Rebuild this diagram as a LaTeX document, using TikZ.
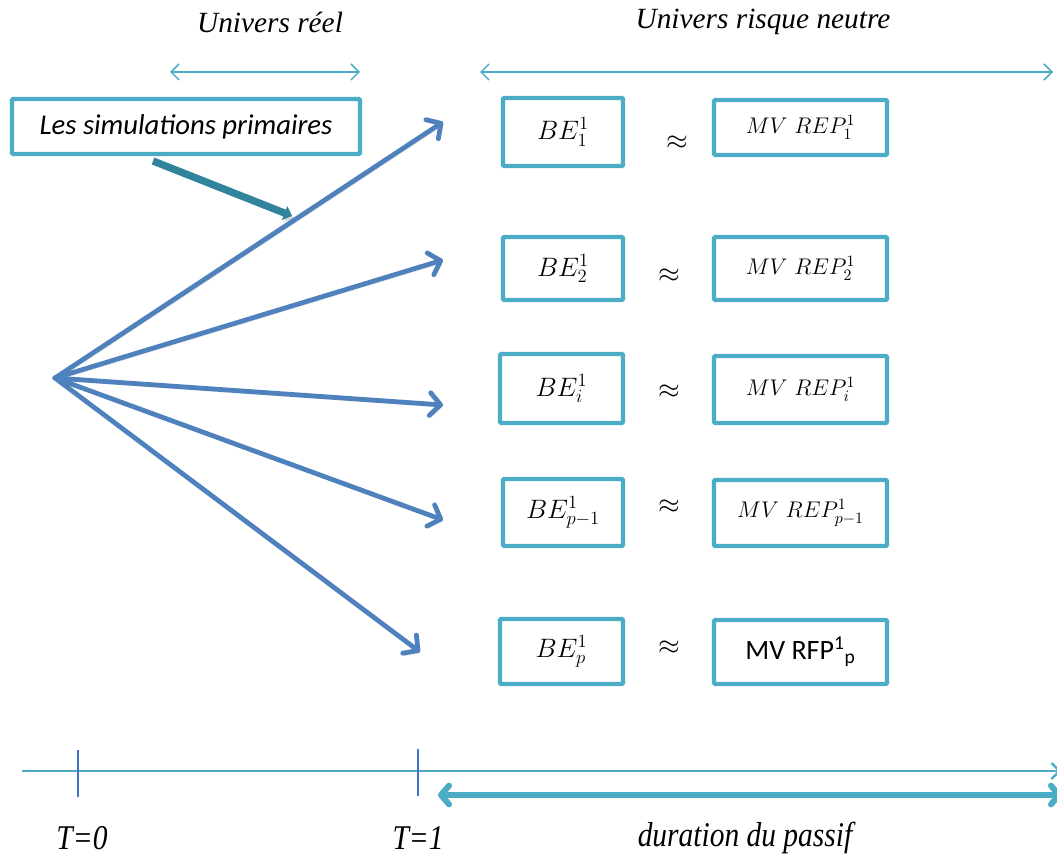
\RequirePackage{fix-cm}
\documentclass[tikz,border=0pt]{standalone}
\usepackage{fontspec}
\usetikzlibrary{arrows.meta}
\newfontfamily\carlito{Carlito}
\newfontfamily\libserif{Liberation Serif}
\definecolor{boxc}{HTML}{4BACC6}
\definecolor{fanc}{HTML}{4F81BD}
\definecolor{darkc}{HTML}{31849B}
\definecolor{tickc}{HTML}{4472C4}
\tikzset{
  shad/.style={preaction={draw=black, opacity=0.10, transform canvas={shift={(1.2pt,-1.8pt)}}}},
  bx/.style={draw=boxc, line width=3.3pt, rounded corners=1pt, inner sep=0pt, fill=white},
  fan/.style={draw=fanc, line width=3.6pt, line cap=round, shad, -{Straight Barb[length=8pt,width=17pt,round]}},
  thinarr/.style={draw=boxc, line width=1.1pt, {Straight Barb[length=6pt,width=12pt]}-{Straight Barb[length=6pt,width=12pt]}},
  betxt/.style={font=\fontsize{20}{24}\selectfont},
  mvtxt/.style={font=\fontsize{17}{20}\selectfont},
  aptxt/.style={font=\fontsize{21}{24}\selectfont},
  ttl/.style={font=\libserif\itshape\fontsize{22}{26}\selectfont},
  axl/.style={font=\libserif\itshape\fontsize{26}{30}\selectfont},
}
\begin{document}
\begin{tikzpicture}[x=0.75pt,y=-0.75pt]
\useasboundingbox (0,0) rectangle (1057,855);
% titles
\node[ttl] (ur) at (270,22) {Univers réel};
\node[ttl] (rn) at (763,22) {Univers risque neutre};
\coordinate (ura) at (170,72); \coordinate (urb) at (360,72);
\coordinate (rna) at (480,72); \coordinate (rnb) at (1053,72);
\draw[thinarr] (ura) -- (urb);
\draw[thinarr] (rna) -- (rnb);
% primary simulations box
\node[bx, minimum width=261pt, minimum height=41.25pt, font=\carlito\itshape\fontsize{21.5}{25}\selectfont] (sim) at (186,126.5) {Les simulations primaires};
% fan
\coordinate (O) at (55,378);
\coordinate (t1) at (443,122);
\coordinate (t2) at (443,260);
\coordinate (t3) at (443,405);
\coordinate (t4) at (443,520);
\coordinate (t5) at (420,652);
\foreach \t in {t1,t2,t3,t4,t5} \draw[fan] (O) -- (\t);
% dark arrow
\coordinate (ds) at (153,161);
\coordinate (de) at (292,216);
\draw[draw=darkc, line width=5.5pt, shad, -{Triangle[length=6pt,width=11pt]}] (ds) -- (de);
% BE boxes
\node[bx, minimum width=90pt, minimum height=51pt, betxt] (be1) at (563,132) {$BE_1^1$};
\node[bx, minimum width=90pt, minimum height=47.25pt, betxt] (be2) at (563,268.5) {$BE_2^1$};
\node[bx, minimum width=92.25pt, minimum height=51.75pt, betxt] (be3) at (561.5,388.5) {$BE_i^1$};
\node[bx, minimum width=90pt, minimum height=50.25pt, betxt] (be4) at (563,512.5) {$BE_{p-1}^1$};
\node[bx, minimum width=92.25pt, minimum height=48.75pt, betxt] (be5) at (561.5,651.5) {$BE_p^1$};
% approx
\node[aptxt] (ap1) at (677,143) {$\approx$};
\node[aptxt] (ap2) at (669,276) {$\approx$};
\node[aptxt] (ap3) at (669,392) {$\approx$};
\node[aptxt] (ap4) at (669,507) {$\approx$};
\node[aptxt] (ap5) at (669,648) {$\approx$};
% MV boxes
\node[bx, minimum width=129.75pt, minimum height=41.25pt, mvtxt] (mv1) at (800.5,127.5) {$MV\ REP_1^1$};
\node[bx, minimum width=129.75pt, minimum height=47.25pt, mvtxt] (mv2) at (800.5,268.5) {$MV\ REP_2^1$};
\node[bx, minimum width=129.75pt, minimum height=50.25pt, mvtxt] (mv3) at (800.5,389.5) {$MV\ REP_i^1$};
\node[bx, minimum width=129.75pt, minimum height=49.5pt, mvtxt] (mv4) at (800.5,513) {$MV\ REP_{p-1}^1$};
\node[bx, minimum width=129.75pt, minimum height=48pt, font=\carlito\fontsize{21}{25}\selectfont] (mv5) at (800.5,652) {MV RFP\textsuperscript{1}\textsubscript{p}};
% time axis
\coordinate (axa) at (22,771); \coordinate (axb) at (1061,771);
\draw[draw=boxc, line width=1.6pt, -{Straight Barb[length=6pt,width=12pt]}] (axa) -- (axb);
\coordinate (k0a) at (78,750); \coordinate (k0b) at (78,797);
\coordinate (k1a) at (418,749); \coordinate (k1b) at (418,796);
\draw[draw=tickc, line width=1pt] (k0a) -- (k0b);
\draw[draw=tickc, line width=1pt] (k1a) -- (k1b);
\coordinate (dpa) at (438,795); \coordinate (dpb) at (1062,795);
\draw[draw=boxc, line width=4.5pt, shad, {Straight Barb[length=6pt,width=14pt,round]}-{Straight Barb[length=6pt,width=14pt,round]}] (dpa) -- (dpb);
\node[axl] (T0) at (82,838) {\scalebox{0.85}[1]{T=0}};
\node[axl] (T1) at (418,838) {\scalebox{0.85}[1]{T=1}};
\node[axl] (dur) at (745,838) {\scalebox{0.85}[1]{duration du passif}};
\end{tikzpicture}
\end{document}
